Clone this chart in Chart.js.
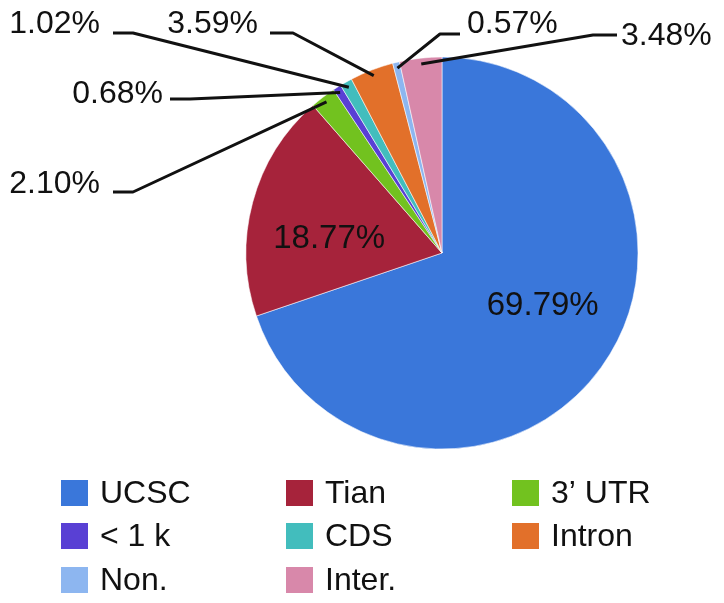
<!DOCTYPE html>
<html>
<head>
<meta charset="utf-8">
<script src="https://cdn.jsdelivr.net/npm/chart.js@4/dist/chart.umd.min.js"></script>
<style>
  html, body { margin: 0; padding: 0; background: #ffffff; }
  #wrap { width: 724px; height: 603px; position: relative; }
</style>
</head>
<body>
<div id="wrap"><canvas id="c" width="724" height="603"></canvas></div>
<script>
// ---- data ----
const categories = ['UCSC', 'Tian', '3\u2019 UTR', '< 1 k', 'CDS', 'Intron', 'Non.', 'Inter.'];
const shares = [69.79, 18.77, 2.10, 0.68, 1.02, 3.59, 0.57, 3.48];
const shareLabels = ['69.79%', '18.77%', '2.10%', '0.68%', '1.02%', '3.59%', '0.57%', '3.48%'];
const sliceColors = ['#3a77da', '#a6233b', '#72c21f', '#5940d4', '#42bdbd', '#e2702a', '#8db6f0', '#d888aa'];

// ---- styling / layout of annotations ----
const FONT = "'Liberation Sans', Arial, Helvetica, sans-serif";
const inside = { 0: { shift: -8, frac: 0.58 }, 1: { shift: -8, frac: 0.58 } };
const callouts = {
  2: { elbow: [133, 192], end: [113, 192], tx: 100, ty: 193, align: 'right' },
  3: { elbow: [190, 99],  end: [170, 99],  tx: 163, ty: 103, align: 'right' },
  4: { elbow: [133, 33],  end: [113, 33],  tx: 100, ty: 33,  align: 'right' },
  5: { elbow: [293, 33],  end: [270, 33],  tx: 258, ty: 33,  align: 'right' },
  6: { elbow: [440, 34],  end: [460, 34],  tx: 467, ty: 33,  align: 'left' },
  7: { elbow: [593, 35],  end: [617, 35],  tx: 621, ty: 45,  align: 'left' }
};
const legendCols = [61, 286, 512];
const legendRows = [480, 523, 567];

const labelPlugin = {
  id: 'sliceLabels',
  afterDatasetsDraw(chart) {
    const ctx = chart.ctx;
    const meta = chart.getDatasetMeta(0);
    ctx.save();
    meta.data.forEach((arc, i) => {
      const p = arc.getProps(['x', 'y', 'startAngle', 'endAngle', 'outerRadius'], true);
      const mid = (p.startAngle + p.endAngle) / 2;
      if (inside[i]) {
        const a = mid + inside[i].shift * Math.PI / 180;
        const r = p.outerRadius * inside[i].frac;
        ctx.fillStyle = '#111';
        ctx.font = '33px ' + FONT;
        ctx.textAlign = 'center';
        ctx.textBaseline = 'middle';
        ctx.fillText(shareLabels[i], p.x + Math.cos(a) * r, p.y + Math.sin(a) * r);
      } else if (callouts[i]) {
        const c = callouts[i];
        const r = p.outerRadius * 0.97;
        const sx = p.x + Math.cos(mid) * r, sy = p.y + Math.sin(mid) * r;
        ctx.strokeStyle = '#111';
        ctx.lineWidth = 3;
        ctx.lineJoin = 'round';
        ctx.lineCap = 'butt';
        ctx.beginPath();
        ctx.moveTo(sx, sy);
        ctx.lineTo(c.elbow[0], c.elbow[1]);
        ctx.lineTo(c.end[0], c.end[1]);
        ctx.stroke();
        ctx.fillStyle = '#111';
        ctx.font = '32px ' + FONT;
        ctx.textAlign = c.align;
        ctx.textBaseline = 'alphabetic';
        ctx.fillText(shareLabels[i], c.tx, c.ty);
      }
    });
    ctx.restore();
  }
};

const legendPlugin = {
  id: 'gridLegend',
  afterDraw(chart) {
    const ctx = chart.ctx;
    const labels = chart.data.labels;
    const colors = chart.data.datasets[0].backgroundColor;
    ctx.save();
    labels.forEach((lab, i) => {
      const col = i % 3, row = Math.floor(i / 3);
      const x = legendCols[col], y = legendRows[row];
      ctx.fillStyle = colors[i];
      ctx.fillRect(x, y, 27, 26);
      ctx.fillStyle = '#111';
      ctx.font = '32px ' + FONT;
      ctx.textAlign = 'left';
      ctx.textBaseline = 'middle';
      ctx.fillText(lab, x + 39, y + 14);
    });
    ctx.restore();
  }
};

new Chart(document.getElementById('c'), {
  type: 'pie',
  data: {
    labels: categories,
    datasets: [{
      data: shares,
      backgroundColor: sliceColors,
      borderColor: 'rgba(255,255,255,0.55)',
      borderWidth: 1,
      radius: 196
    }]
  },
  options: {
    responsive: false,
    animation: false,
    layout: { padding: { left: 246, right: 86, top: 57, bottom: 154 } },
    plugins: {
      legend: { display: false },
      tooltip: { enabled: false }
    }
  },
  plugins: [labelPlugin, legendPlugin]
});
</script>
</body>
</html>
